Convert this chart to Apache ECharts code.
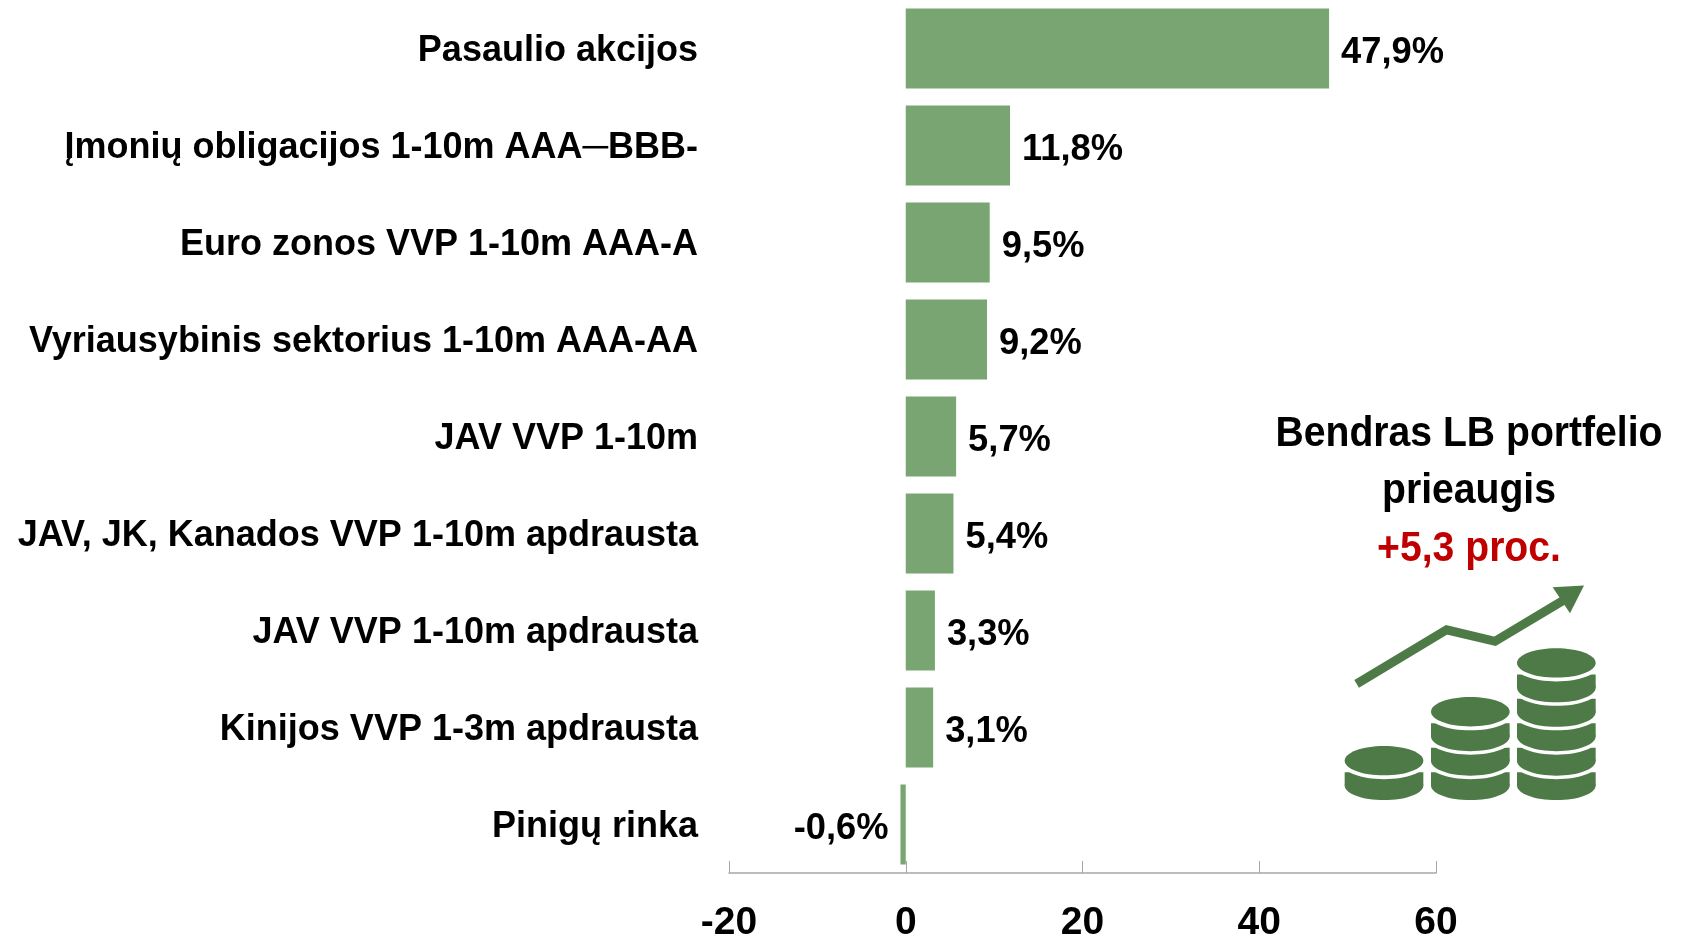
<!DOCTYPE html>
<html><head><meta charset="utf-8">
<style>html,body{margin:0;padding:0;background:#fff}#c{width:1683px;height:937px}</style>
<script src="https://cdn.jsdelivr.net/npm/echarts@6/dist/echarts.min.js"></script>
</head><body><div id="c"></div>
<script>
const categories = ["Pasaulio akcijos","Įmonių obligacijos 1-10m AAA─BBB-","Euro zonos VVP 1-10m AAA-A","Vyriausybinis sektorius 1-10m AAA-AA","JAV VVP 1-10m","JAV, JK, Kanados VVP 1-10m apdrausta","JAV VVP 1-10m apdrausta","Kinijos VVP 1-3m apdrausta","Pinigų rinka"];
const values = [47.9,11.8,9.5,9.2,5.7,5.4,3.3,3.1,-0.6];
const noteLines = ["Bendras LB portfelio","prieaugis"];
const noteValue = "+5,3 proc.";
const FONT = '"Liberation Sans", Arial, sans-serif';
const ICON = '#4d7a46';
const SY = 0.349;
const zx = v => 1240 + v/3, zy = v => 390 + v*SY;

const icon = [];
icon.push({type:'polyline',z:10,shape:{points:[[350,842],[620,687],[765,720],[975,600]].map(p=>[zx(p[0]),zy(p[1])])},style:{stroke:ICON,lineWidth:9,fill:null,lineJoin:'miter'}});
icon.push({type:'polygon',z:10,shape:{points:[[1032,560],[938,565],[990,640]].map(p=>[zx(p[0]),zy(p[1])])},style:{fill:ICON}});
const RX = 118/3, RY = 42*SY;
function ell(cx,cy,rx,ry,fill,z){icon.push({type:'ellipse',z:z,shape:{cx:cx,cy:cy,rx:rx,ry:ry},style:{fill:fill}});}
[[432,1],[691,3],[949,5]].forEach(([cxz,n])=>{
  const cx = zx(cxz);
  let z = 11;
  for(let k=0;k<n;k++){
    const c = zy(1062-70*k);
    ell(cx,c+71*SY,RX,RY,ICON,z++);
    icon.push({type:'rect',z:z++,shape:{x:cx-RX,y:c+33*SY,width:2*RX,height:38*SY},style:{fill:ICON}});
    ell(cx,c+9*SY,125/3,44*SY,'#fff',z++);
    if(k===n-1) ell(cx,c,RX,RY,ICON,z++);
  }
});
const noteText = (t,y,color)=>({type:'text',z:12,x:1469,y:y,scaleX:0.91,
  style:{text:t,fill:color,font:'bold 43px '+FONT,align:'center',verticalAlign:'middle'}});

const chart = echarts.init(document.getElementById('c'),null,{renderer:'canvas'});
chart.setOption({
  animation:false,
  grid:{left:729,top:0,width:707,height:873,containLabel:false,outerBoundsMode:'none'},
  xAxis:{type:'value',min:-20,max:60,interval:20,position:'bottom',
    splitLine:{show:false},
    axisLine:{show:true,onZero:false,lineStyle:{color:'#a6a6a6',width:1.5}},
    axisTick:{show:true,inside:true,length:12,lineStyle:{color:'#a6a6a6',width:1}},
    axisLabel:{color:'#000',fontFamily:FONT,fontWeight:'bold',fontSize:39,margin:31}},
  yAxis:{type:'category',inverse:true,data:categories,
    axisLine:{show:false},axisTick:{show:false},
    axisLabel:{margin:31,formatter:s=>'{a|'+s+'}',
      rich:{a:{color:'#000',fontFamily:FONT,fontWeight:'bold',fontSize:36,padding:[5,0,0,0]}}}},
  series:[{type:'bar',barWidth:80,itemStyle:{color:'#78a571'},
    data:values.map(v=>({value:v,label:{position:v<0?'left':'right'}})),
    label:{show:true,color:'#000',fontFamily:FONT,fontWeight:'bold',fontSize:36.3,distance:12,offset:[0,4],
      formatter:p=>p.value.toFixed(1).replace('.',',')+'%'}}],
  graphic:[noteText(noteLines[0],434,'#000'),noteText(noteLines[1],491,'#000'),noteText(noteValue,549,'#c00000'),...icon]
});
</script></body></html>
